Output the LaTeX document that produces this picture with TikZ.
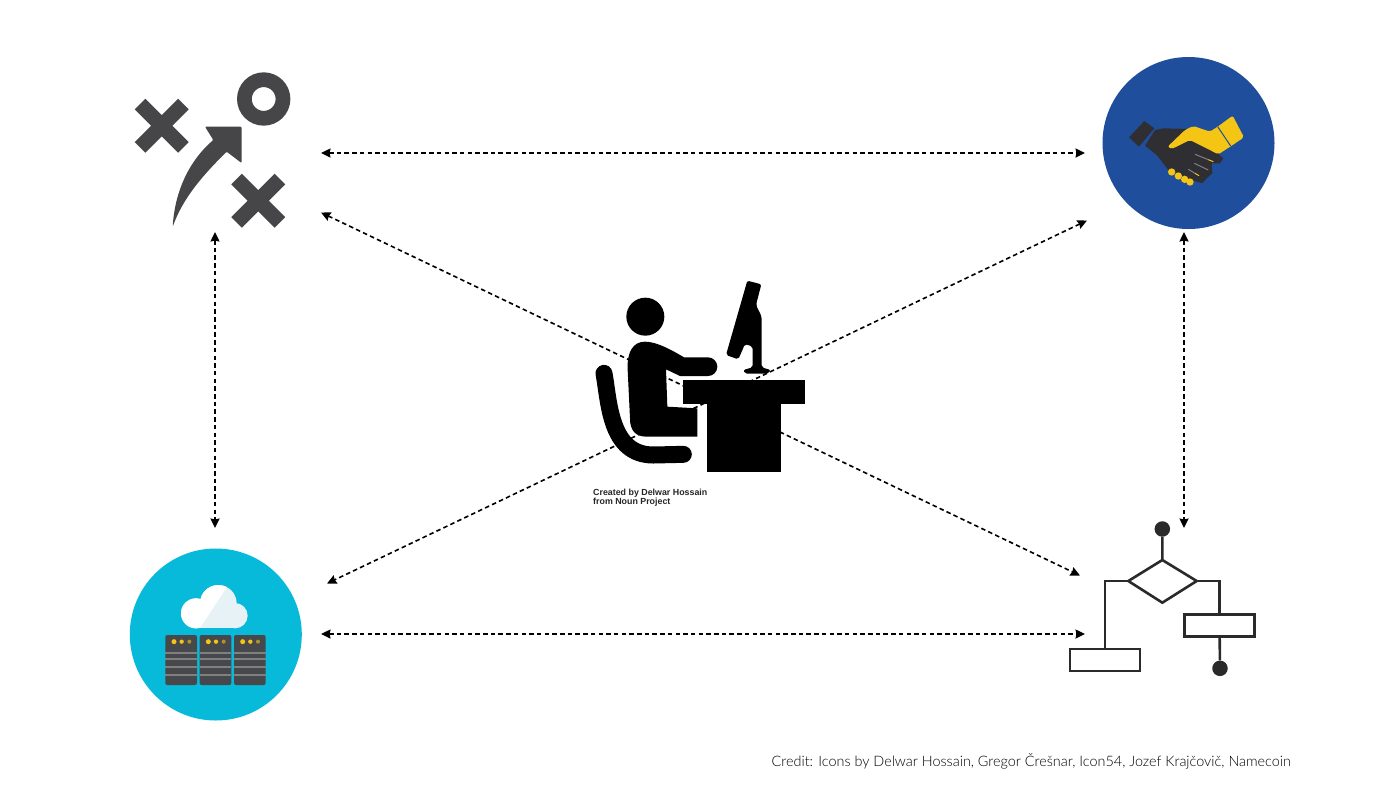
\documentclass[tikz,border=0pt]{standalone}
\usepackage{fontspec}
\usetikzlibrary{arrows.meta}
\newfontfamily\creditfont{Lato Light}
\newfontfamily\nounfont{Liberation Sans}
\definecolor{icongray}{HTML}{464648}
\definecolor{handblue}{HTML}{1F4F9C}
\definecolor{handyellow}{HTML}{F5C515}
\definecolor{handdark}{HTML}{2F2F33}
\definecolor{cloudblue}{HTML}{08BAD9}
\definecolor{cloudpale}{HTML}{E6F2F5}
\definecolor{rackgray}{HTML}{47484C}
\definecolor{flowdark}{HTML}{2A2A2A}
\newcommand{\cloudblob}[1]{%
 \fill[#1] (228,220) circle (45);
 \fill[#1] (295,190) circle (55);
 \fill[#1] (345,227) circle (38);
 \fill[#1] (228,225) rectangle (345,265);}
\begin{document}
\begin{tikzpicture}[x=1pt,y=-1pt,>={Stealth[length=9.5pt,width=9pt,inset=1pt]},
 link/.style={<->,line width=1.6pt,dash pattern=on 4.5pt off 3.2pt,black},
 disc/.style={circle,minimum size=172pt,inner sep=0pt},
 crossbar/.style={line width=15pt,icongray},
 flowline/.style={line width=2.6pt,flowdark},
 flowdot/.style={circle,fill=flowdark,minimum size=15.5pt,inner sep=0pt},
 flowbox/.style={draw=flowdark,line width=2.6pt,fill=white,minimum width=70pt,minimum height=22pt,inner sep=0pt},
 rack/.style={rounded corners=2pt,fill=rackgray},
 lamp/.style={fill=handyellow}]
\useasboundingbox (0,0) rectangle (1400,788);
\fill[white] (0,0) rectangle (1400,788);

\node[disc,fill=handblue] (partners) at (1188.5,143) {};
\node[disc,fill=cloudblue] (cloud) at (215.8,634.5) {};

\coordinate (planE) at (321,153);
\coordinate (planSE) at (321,212.5);
\coordinate (planS) at (215,232);
\coordinate (partnersW) at (1085,153);
\coordinate (partnersSW) at (1087,220.5);
\coordinate (partnersS) at (1184,232);
\coordinate (cloudN) at (215,528);
\coordinate (cloudNE) at (327,583.5);
\coordinate (cloudE) at (321,634);
\coordinate (flowNW) at (1080,575.5);
\coordinate (flowW) at (1085,634);
\coordinate (flowN) at (1184,528);

\draw[link] (planE)--(partnersW);
\draw[link] (cloudE)--(flowW);
\draw[link] (planS)--(cloudN);
\draw[link] (partnersS)--(flowN);
\draw[link] (planSE)--(flowNW);
\draw[link] (partnersSW)--(cloudNE);

% tactics
\draw[crossbar] (140,104)--(183.4,147.4) (183.4,104)--(140,147.4);
\draw[crossbar] (236.6,179)--(280,222.4) (280,179)--(236.6,222.4);
\draw[line width=14.7pt,icongray] (263.7,99) circle (19.3);
\fill[icongray,rounded corners=1pt] (205,126.7)--(241.5,126.7)--(241.5,163)--(226.7,151.7)
 .. controls (203,175) and (183,198) .. (172.7,226.7)
 .. controls (175,190) and (190,160) .. (213.3,140)--cycle;

% handshake
\begin{scope}[shift={(1095,75)},scale=1/3]
\fill[handdark] (148,138)--(178,160)--(132,215)--(102,187)--cycle;
\fill[handdark] (150,212)--(180,165)--(205,160)--(285,162)--(385,250)--(375,265)--(350,265)
 --(352,295)--(335,310)--(322,325)--(290,315)--(220,285)--(185,240)--cycle;
\foreach \tipx/\tipy in {230/291,250/303,269/313,285/321}
 \fill[handyellow] (\tipx,\tipy) circle (11);
\fill[handyellow,rounded corners=2pt] (218,215)--(230,222)--(285,195)--(370,238)--(407,214)
 --(447,187)--(413,122)--(368,155)--(345,170)--(295,153)--(270,165)--cycle;
\draw[line width=1pt,handblue] (368,155)--(407,213);
\draw[line width=1pt,gray] (300,238)--(340,254) (298,265)--(340,285) (280,283)--(300,295);
\draw[line width=1pt,handyellow] (340,254)--(355,260) (300,295)--(312,302);
\end{scope}

% cloud and servers
\begin{scope}[shift={(120,540)},scale=1/3]
\cloudblob{cloudpale}
\begin{scope}
\clip (170,120)--(335,120)--(235,270)--(170,270)--cycle;
\cloudblob{white}
\end{scope}
\foreach \rackx in {136,239,342} {
 \fill[rack] (\rackx,285) rectangle ++(95,150);
 \foreach \liney in {338,358,382,406}
  \draw[line width=1.8pt,gray] (\rackx,\liney)--++(95,0);
 \fill[lamp] (\rackx+26,305) circle (7.5);
 \fill[lamp] (\rackx+49,305) circle (6.5);
 \fill[handyellow!60!rackgray] (\rackx+72,305) circle (6);
}
\end{scope}

% flow chart
\begin{scope}[shift={(1055,510)},scale=1/3]
\node[flowdot] (flowstart) at (322,57) {};
\node[flowdot] (flowend) at (495,475) {};
\coordinate (diamondN) at (322,150);
\coordinate (diamondE) at (425,213);
\coordinate (diamondS) at (322,278);
\coordinate (diamondW) at (220,213);
\node[flowbox] (boxleft) at (150,450) {};
\node[flowbox] (boxright) at (494,346) {};
\draw[flowline] (flowstart)--(diamondN)--(diamondE)--(diamondS)--(diamondW)--(diamondN);
\draw[flowline] (diamondW)-|(boxleft.north);
\draw[flowline] (diamondE)-|(boxright.north);
\draw[flowline] (boxright.south)--(flowend);
\end{scope}

% person at desk
\begin{scope}[shift={(580,270)},scale=1/3]
\fill[black] (196,140) circle (57);
\fill[black] (143,300) .. controls (140,245) and (160,215) .. (195,215)
 .. controls (230,215) and (275,240) .. (312,262)--(384,262) arc (-90:90:28)--(300,318)
 --(258,298)--(262,410)--(352,415)--(352,500)--(200,500)
 .. controls (165,500) and (150,480) .. (150,445)--cycle;
\draw[line width=17pt,line cap=round,black] (72,310) .. controls (88,400) and (90,555) .. (220,555)--(310,553);
\fill[black] (310,330) rectangle (675,402);
\fill[black] (382,402) rectangle (602,605);
\fill[black,rounded corners=2pt] (502,32)--(544,43)--(528,105)--(545,140)--(545,292)--(572,300)--(565,311)
 --(495,311)--(490,300)--(518,292)--(518,230)--(495,222)--(475,268)--(438,255)--cycle;
\end{scope}

\node[anchor=north west,align=left,inner sep=0pt,font=\nounfont\bfseries\fontsize{8.85}{9.4}\selectfont,text=black!85] (noun) at (593,488.5)
 {Created by Delwar Hossain\\from Noun Project};
\node[anchor=base east,inner sep=0pt,font=\creditfont\fontsize{14.4}{16}\selectfont,text=black] (credit) at (1291,766)
 {Credit: Icons by Delwar Hossain, Gregor Črešnar, Icon54, Jozef Krajčovič, Namecoin};
\end{tikzpicture}
\end{document}
